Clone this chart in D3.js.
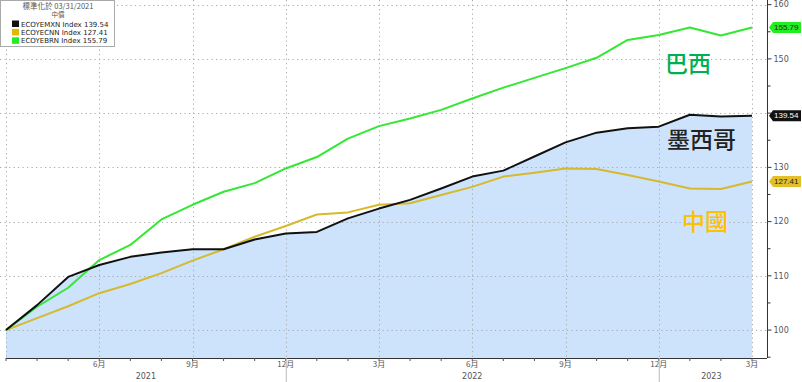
<!DOCTYPE html>
<html><head><meta charset="utf-8">
<script src="https://cdn.jsdelivr.net/npm/d3@7"></script>
<style>
html,body{margin:0;padding:0;background:#fff;}
svg{display:block;}
</style></head>
<body>
<svg id="c" width="802" height="382"></svg>
<script>
// ---- data (month index 0 = 03/31/2021 ... 24 = 03/31/2023)
const months = d3.range(0, 25);
const mexico = [100, 104.6, 109.8, 112.0, 113.5, 114.3, 114.9, 114.9, 116.7, 117.8, 118.1, 120.6, 122.4, 124.0, 126.1, 128.3, 129.4, 132.0, 134.6, 136.4, 137.2, 137.5, 139.7, 139.4, 139.54];
const china  = [100, 102.2, 104.4, 106.8, 108.5, 110.5, 112.8, 114.9, 117.2, 119.2, 121.3, 121.7, 123.1, 123.4, 124.9, 126.4, 128.3, 129.0, 129.8, 129.7, 128.6, 127.4, 126.1, 126.0, 127.41];
const brazil = [100, 104.3, 107.8, 112.9, 115.7, 120.4, 123.1, 125.5, 127.1, 129.8, 131.9, 135.3, 137.6, 139.0, 140.6, 142.7, 144.7, 146.5, 148.3, 150.2, 153.5, 154.4, 155.8, 154.3, 155.79];
const seriesNames = ["ECOYEMXN Index", "ECOYECNN Index", "ECOYEBRN Index"];
const lastLabels = ["139.54", "127.41", "155.79"];
const quarterTicks = [3, 6, 9, 12, 15, 18, 21, 24];
const quarterLabels = ["6月", "9月", "12月", "3月", "6月", "9月", "12月", "3月"];
const yearLabels = ["2021", "2022", "2023"];
const yearSpans = [[0, 9], [9, 21], [21, 24]];
const yTicks = [100, 110, 120, 130, 140, 150, 160];
const annotations = ["巴西", "墨西哥", "中國"];
const legendTitle = ["標準化於 03/31/2021", "中價"];

const colors = {mx: "#111111", cn: "#d6b92c", br: "#33e833", fill: "#cce3fb"};

const svg = d3.select("#c");
const x = d3.scaleLinear().domain([0, 24]).range([6, 752]);
const y = d3.scaleLinear().domain([94.85, 160.86]).range([358, 0]);
const plotRight = 767, plotBottom = 358;

// area fill under Mexico
const area = d3.area().x((d, i) => x(months[i])).y0(plotBottom).y1(d => y(d));
svg.append("path").datum(mexico).attr("d", area).attr("fill", colors.fill);

// gridlines
const grid = svg.append("g").attr("stroke", "#a9a9a9").attr("stroke-width", 1).attr("stroke-dasharray", "1.2,3.3");
yTicks.forEach(v => {
  grid.append("line").attr("x1", 0).attr("x2", plotRight).attr("y1", Math.round(y(v)) + 0.5).attr("y2", Math.round(y(v)) + 0.5);
});
[0].concat(quarterTicks).forEach(m => {
  grid.append("line").attr("x1", Math.round(x(m)) + 0.5).attr("x2", Math.round(x(m)) + 0.5).attr("y1", 0).attr("y2", plotBottom);
});

// lines
const line = d3.line().x((d, i) => x(months[i])).y(d => y(d));
[[china, colors.cn], [brazil, colors.br], [mexico, colors.mx]].forEach(([s, c]) => {
  svg.append("path").datum(s).attr("d", line).attr("fill", "none").attr("stroke", c).attr("stroke-width", 2).attr("stroke-linejoin", "round");
});

// last-value tag positions (used to hide covered axis labels)
const tagData = [[mexico, colors.mx, "#fff", lastLabels[0]], [china, "#e3c02a", "#222", lastLabels[1]], [brazil, "#22ee22", "#222", lastLabels[2]]];
const tagYs = tagData.map(t => y(t[0][t[0].length - 1]));

// right axis
const yAxisG = svg.append("g").attr("transform", `translate(${plotRight + 0.5},0)`);
yAxisG.append("line").attr("y1", 0).attr("y2", plotBottom).attr("stroke", "#333");
d3.range(95, 161, 5).forEach(v => {
  const major = v % 10 === 0;
  yAxisG.append("line").attr("x1", 0).attr("x2", major ? 4 : 3).attr("y1", y(v)).attr("y2", y(v)).attr("stroke", "#333");
});
yTicks.filter(v => tagYs.every(t => Math.abs(t - y(v)) > 9)).forEach(v => {
  yAxisG.append("text").attr("x", 6).attr("y", y(v)).attr("dy", "0.35em")
    .attr("font-family", "DejaVu Sans, sans-serif").attr("font-size", 8).attr("fill", "#555").text(v);
});

// bottom axis
const xAxisG = svg.append("g");
xAxisG.append("line").attr("x1", 6).attr("x2", plotRight).attr("y1", plotBottom + 0.5).attr("y2", plotBottom + 0.5).attr("stroke", "#333");
months.forEach(m => {
  xAxisG.append("line").attr("x1", x(m)).attr("x2", x(m)).attr("y1", plotBottom).attr("y2", plotBottom + 3).attr("stroke", "#555");
});
quarterTicks.forEach((m, i) => {
  xAxisG.append("text").attr("x", x(m)).attr("y", plotBottom + 9).attr("text-anchor", "middle")
    .attr("font-family", "Noto Sans CJK TC, DejaVu Sans, sans-serif").attr("font-size", 8).attr("fill", "#555").text(quarterLabels[i]);
});
[9, 21].forEach(m => {
  xAxisG.append("line").attr("x1", x(m) + 0.5).attr("x2", x(m) + 0.5).attr("y1", plotBottom).attr("y2", 382).attr("stroke", "#bbb");
});
yearSpans.forEach((s, i) => {
  xAxisG.append("text").attr("x", (x(s[0]) + x(s[1])) / 2 + (i === 2 ? 6 : 0)).attr("y", plotBottom + 21).attr("text-anchor", "middle")
    .attr("font-family", "DejaVu Sans, sans-serif").attr("font-size", 8).attr("fill", "#555").text(yearLabels[i]);
});

// last-value tags
tagData.forEach(([s, bg, fg, lbl], i) => {
  const g = svg.append("g").attr("transform", `translate(769,${tagYs[i]})`);
  g.append("path").attr("d", "M0,0 L4,-5.5 L32,-5.5 L32,5.5 L4,5.5 Z").attr("fill", bg);
  g.append("text").attr("x", 5).attr("y", 0).attr("dy", "0.35em").attr("font-family", "Liberation Sans, Arial, sans-serif")
    .attr("font-size", 8).attr("fill", fg).text(lbl);
});

// annotations
const annPos = [[665, 64, "#00b050"], [667, 140, "#222222"], [682, 222, "#ffc000"]];
annotations.forEach((t, i) => {
  svg.append("text").attr("x", annPos[i][0]).attr("y", annPos[i][1]).attr("dy", "0.36em")
    .attr("font-family", "Noto Sans CJK TC, sans-serif").attr("font-size", 23).attr("font-weight", 500)
    .attr("fill", annPos[i][2]).text(t);
});

// legend
const lg = svg.append("g");
lg.append("rect").attr("x", 0.5).attr("y", 0.5).attr("width", 114).attr("height", 46).attr("fill", "#fff").attr("stroke", "#aaa");
lg.append("text").attr("x", 58).attr("y", 8.5).attr("text-anchor", "middle").attr("font-family", "Noto Sans CJK TC, sans-serif")
  .attr("font-size", 7.5).attr("fill", "#555").text(legendTitle[0]);
lg.append("text").attr("x", 58).attr("y", 17).attr("text-anchor", "middle").attr("font-family", "Noto Sans CJK TC, sans-serif")
  .attr("font-size", 6.5).attr("fill", "#555").text(legendTitle[1]);
const legColors = [colors.mx, "#e0b800", "#22ee22"];
legColors.forEach((c, i) => {
  const yy = 20.5 + i * 8.4;
  lg.append("rect").attr("x", 12).attr("y", yy).attr("width", 7).attr("height", 6.5).attr("fill", c);
  lg.append("text").attr("x", 21).attr("y", yy + 6).attr("font-family", "DejaVu Sans, sans-serif").attr("font-size", 7)
    .attr("fill", "#222").text(seriesNames[i] + " " + lastLabels[i]);
});
</script>
</body></html>
